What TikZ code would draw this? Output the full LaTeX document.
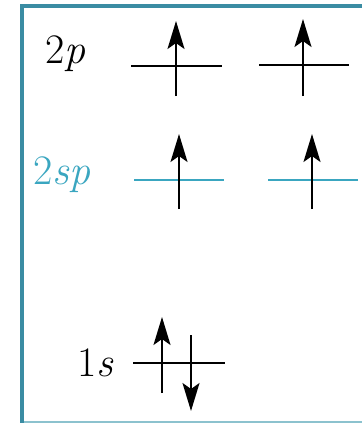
\documentclass[tikz,border=0pt]{standalone}
\usepackage{fontspec}
\usetikzlibrary{arrows.meta}
\definecolor{frameteal}{HTML}{3A8CA3}
\definecolor{framelight}{HTML}{8CC2CE}
\definecolor{spteal}{HTML}{3AA6C0}
\tikzset{
  level/.style={line width=2.4pt},
  spin/.style={line width=1.8pt,-{Stealth[length=28pt,width=17pt,inset=6pt]}},
  lbl/.style={anchor=base west,inner sep=0pt,font=\fontsize{42}{44}\selectfont}
}
\begin{document}
\begin{tikzpicture}[x=1pt,y=-1pt]
\useasboundingbox (0,0) rectangle (362,423);
\fill[white] (0,0) rectangle (362,423);
% frame
\draw[framelight,line width=1.5pt] (22,422) -- (362,422);
\draw[frameteal,line width=4pt] (22,423) -- (22,6) -- (362,6);
% labels
\node[lbl] (l2p) at (45,63) {2\textit{p}};
\node[lbl,text=spteal] (l2sp) at (33,184) {2\textit{sp}};
\node[lbl] (l1s) at (77,376) {1\textit{s}};
% 2p levels
\coordinate (a1) at (131,66); \coordinate (a2) at (222,66);
\coordinate (b1) at (259,65); \coordinate (b2) at (349,65);
\draw[level] (a1) -- (a2);
\draw[level] (b1) -- (b2);
\coordinate (ua0) at (176,96); \coordinate (ua1) at (176,21);
\coordinate (ub0) at (303,96); \coordinate (ub1) at (303,19);
\draw[spin] (ua0) -- (ua1);
\draw[spin] (ub0) -- (ub1);
% 2sp levels
\coordinate (c1) at (134,180); \coordinate (c2) at (224,180);
\coordinate (d1) at (268,180); \coordinate (d2) at (358,180);
\draw[level,spteal] (c1) -- (c2);
\draw[level,spteal] (d1) -- (d2);
\coordinate (uc0) at (179,209); \coordinate (uc1) at (179,134);
\coordinate (ud0) at (312,209); \coordinate (ud1) at (312,134);
\draw[spin] (uc0) -- (uc1);
\draw[spin] (ud0) -- (ud1);
% 1s level
\coordinate (e1) at (133,363); \coordinate (e2) at (225,363);
\draw[level] (e1) -- (e2);
\coordinate (ue0) at (162,393); \coordinate (ue1) at (162,317);
\coordinate (de0) at (191,335); \coordinate (de1) at (191,411);
\draw[spin] (ue0) -- (ue1);
\draw[spin] (de0) -- (de1);
\end{tikzpicture}
\end{document}
